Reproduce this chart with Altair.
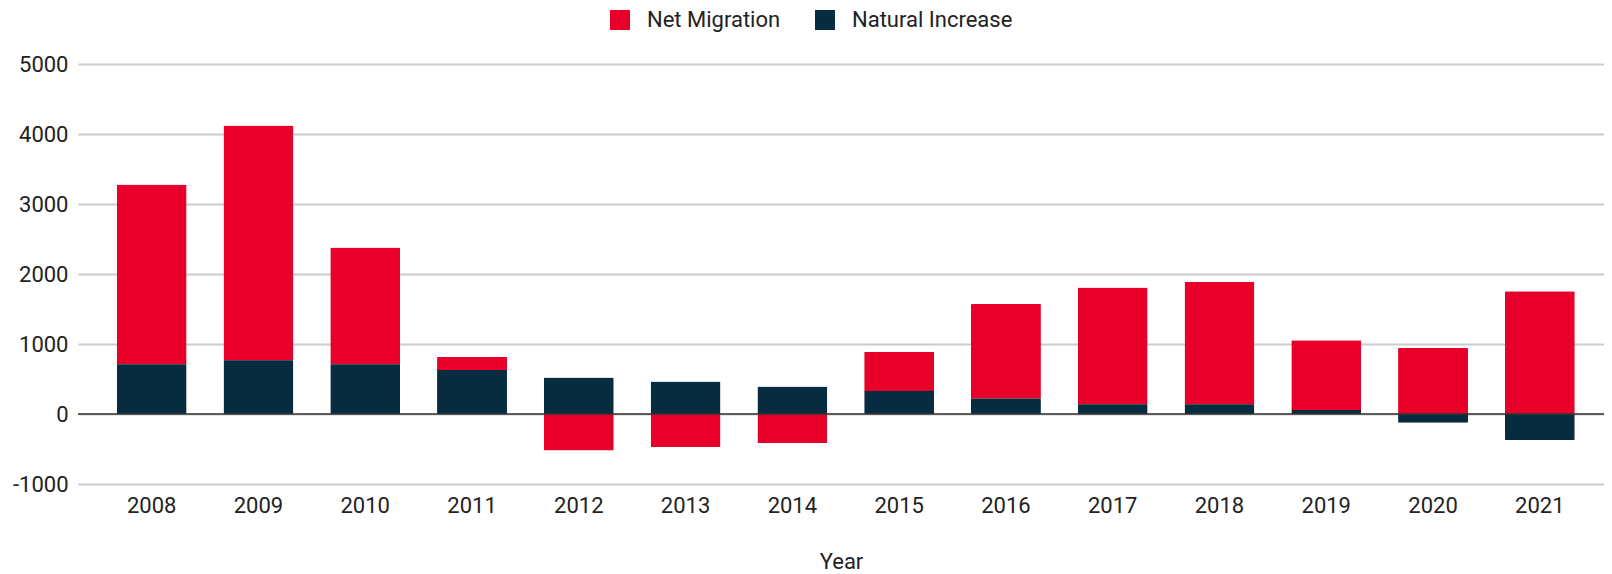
import altair as alt
import pandas as pd

years = ["2008", "2009", "2010", "2011", "2012", "2013", "2014",
         "2015", "2016", "2017", "2018", "2019", "2020", "2021"]
net_migration = [2570, 3354, 1666, 188, -522, -470, -418,
                 560, 1351, 1665, 1749, 994, 942, 1754]
natural_increase = [710, 768, 711, 627, 522, 465, 392,
                    330, 220, 141, 141, 58, -126, -372]
series = ["Net Migration", "Natural Increase"]
colors = ["#E8002A", "#072B3F"]
y_ticks = [-1000, 0, 1000, 2000, 3000, 4000, 5000]

rows = []
for i, y in enumerate(years):
    rows.append({"Year": y, "Series": series[0], "Value": net_migration[i], "ord": 1})
    rows.append({"Year": y, "Series": series[1], "Value": natural_increase[i], "ord": 0})
df = pd.DataFrame(rows)

FONT = "Roboto"

bars = alt.Chart(df).mark_bar(cornerRadius=1).encode(
    x=alt.X("Year:N", sort=years, title="Year",
            scale=alt.Scale(paddingInner=0.345, paddingOuter=0.318, align=0.57),
            axis=alt.Axis(labelAngle=0, ticks=False, domain=False, grid=False,
                          labelPadding=11, labelFontSize=22, labelColor="#222",
                          titleFontSize=22, titleFontWeight="normal", titleColor="#222",
                          titlePadding=35)),
    y=alt.Y("Value:Q", stack="zero", title=None,
            scale=alt.Scale(domain=[-1000, 5000], nice=False),
            axis=alt.Axis(values=y_ticks, ticks=False, domain=False, grid=True,
                          gridColor="#cccccc", gridWidth=2, labelPadding=10,
                          labelFontSize=22, labelColor="#222",
                          labelExpr="replace(format(datum.value, 'd'), '\u2212', '-')")),
    color=alt.Color("Series:N", scale=alt.Scale(domain=series, range=colors),
                    legend=alt.Legend(title=None, orient="none", direction="horizontal",
                                      legendX=531, legendY=-55, padding=0,
                                      symbolType="square", symbolSize=400,
                                      symbolStrokeWidth=0, symbolOpacity=1,
                                      labelFontSize=22, labelColor="#222",
                                      labelLimit=400,
                                      labelOffset=16, columnPadding=33)),
    order=alt.Order("ord:Q"),
)

zero = alt.Chart(pd.DataFrame({"v": [0]})).mark_rule(color="#333333", strokeWidth=1.5).encode(
    y=alt.Y("v:Q")
)

chart = alt.layer(bars, zero).properties(
    width=1526, height=420,
    padding={"left": 70, "top": 56, "right": 0, "bottom": 92},
    autosize=alt.AutoSizeParams(type="none"),
).configure(font=FONT).configure_view(stroke=None)

chart.save("out.html", embed_options={"renderer": "svg", "actions": False})
